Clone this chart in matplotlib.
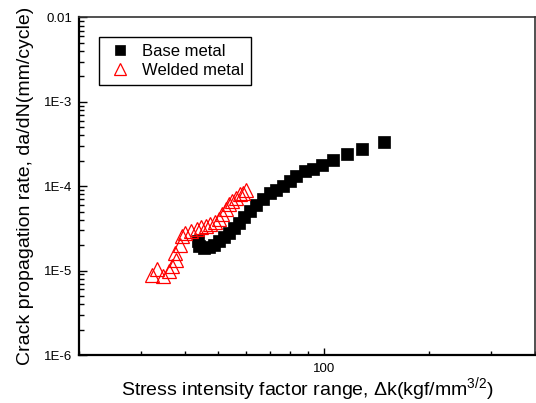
import matplotlib
matplotlib.use('Agg')
import matplotlib.pyplot as plt
from matplotlib import ticker

plt.rcParams['font.family'] = ['Liberation Sans', 'DejaVu Sans']
plt.rcParams['mathtext.fontset'] = 'custom'
plt.rcParams['mathtext.rm'] = 'Liberation Sans'
plt.rcParams['mathtext.it'] = 'Liberation Sans:italic'

# Base metal: stress intensity factor range vs crack growth rate
base_dk = [43.7, 44.0, 45.5, 47.0, 48.6, 50.2, 51.9, 53.6, 55.4, 57.2, 59.1,
           61.5, 64.0, 67.0, 70.1, 73.0, 76.4, 80.0, 83.2, 88.3, 93.0, 98.7,
           106, 116, 128, 148]
base_rate = [2.23e-5, 1.94e-5, 1.84e-5, 1.89e-5, 2.00e-5, 2.23e-5, 2.48e-5,
             2.77e-5, 3.17e-5, 3.63e-5, 4.28e-5, 5.04e-5, 5.93e-5, 6.98e-5,
             8.22e-5, 8.92e-5, 9.95e-5, 1.14e-4, 1.31e-4, 1.50e-4, 1.62e-4,
             1.81e-4, 2.07e-4, 2.44e-4, 2.80e-4, 3.38e-4]

# Welded metal
weld_dk = [32.3, 33.4, 34.7, 36.1, 36.8, 37.8, 37.6, 38.8, 39.3, 40.1, 41.7,
           43.4, 44.6, 46.1, 47.3, 48.9, 50.2, 51.2, 52.5, 53.6, 54.6, 56.1,
           57.6, 58.7, 59.9]
weld_rate = [8.82e-6, 1.04e-5, 8.59e-6, 9.84e-6, 1.13e-5, 1.33e-5, 1.61e-5,
             2.00e-5, 2.55e-5, 2.77e-5, 2.92e-5, 3.09e-5, 3.26e-5, 3.35e-5,
             3.54e-5, 3.73e-5, 4.05e-5, 4.64e-5, 5.32e-5, 6.09e-5, 6.61e-5,
             7.17e-5, 8.00e-5, 8.22e-5, 8.92e-5]

yticks = [1e-6, 1e-5, 1e-4, 1e-3, 1e-2]
ylabels = ['1E-6', '1E-5', '1E-4', '1E-3', '0.01']

fig = plt.figure(figsize=(5.36, 4.03), dpi=100)
ax = fig.add_axes([0.1474, 0.1191, 0.8507, 0.8375])

ax.plot(base_dk, base_rate, 's', color='black', markersize=8.3,
        markeredgewidth=0.5, label='Base metal')
ax.plot(weld_dk, weld_rate, '^', markerfacecolor='none', markeredgecolor='red',
        markersize=10, markeredgewidth=0.9, label='Welded metal')

ax.set_xscale('log')
ax.set_yscale('log')
ax.set_xlim(20, 400)
ax.set_ylim(1e-6, 1e-2)

ax.set_yticks(yticks)
ax.set_yticklabels(ylabels)
ax.yaxis.set_minor_locator(ticker.LogLocator(base=10, subs=range(2, 10)))
ax.yaxis.set_minor_formatter(ticker.NullFormatter())
ax.set_xticks([100])
ax.set_xticklabels(['100'])
ax.xaxis.set_minor_formatter(ticker.NullFormatter())

ax.tick_params(which='both', direction='in', top=False, right=False,
               labelsize=9.5, width=1.0)
ax.tick_params(axis='y', which='major', length=6, pad=5)
ax.tick_params(axis='y', which='minor', length=3.5)
ax.tick_params(axis='x', which='major', length=5, pad=5.5)
ax.tick_params(axis='x', which='minor', length=3)

for side in ['left', 'bottom']:
    ax.spines[side].set_linewidth(1.6)
for side in ['top', 'right']:
    ax.spines[side].set_linewidth(1.2)
    ax.spines[side].set_color('#333333')

ax.set_ylabel('Crack propagation rate, da/dN(mm/cycle)', fontsize=14)
ax.yaxis.set_label_coords(-0.098, 0.5)
ax.set_xlabel('Stress intensity factor range, \u0394k(kgf/mm$^{3/2}$)', fontsize=14)
ax.xaxis.set_label_coords(0.5, -0.061)

leg = ax.legend(loc='upper left', bbox_to_anchor=(0.044, 0.943), borderaxespad=0,
                fontsize=12, numpoints=1, fancybox=False, edgecolor='black',
                framealpha=1, handlelength=1.6, handletextpad=0.5,
                borderpad=0.45, labelspacing=0.22, markerscale=0.9)
leg.get_frame().set_linewidth(1.0)

fig.savefig('out.png', dpi=100)
